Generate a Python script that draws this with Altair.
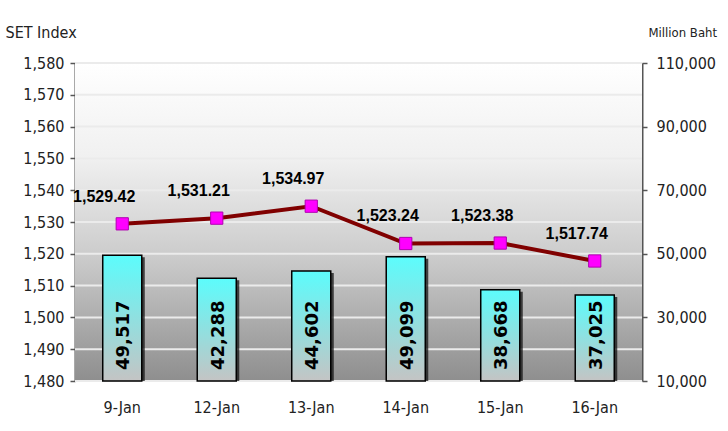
import altair as alt
import pandas as pd

dates = ["9-Jan", "12-Jan", "13-Jan", "14-Jan", "15-Jan", "16-Jan"]
set_index = [1529.42, 1531.21, 1534.97, 1523.24, 1523.38, 1517.74]
volume = [49517, 42288, 44602, 49099, 38668, 37025]
left_ticks = [1480, 1490, 1500, 1510, 1520, 1530, 1540, 1550, 1560, 1570, 1580]
right_ticks = [10000, 30000, 50000, 70000, 90000, 110000]
vol_base = 10000

df = pd.DataFrame({"date": dates, "set": set_index, "vol": volume})
grid_df = pd.DataFrame({"g": left_ticks})

W, H = 567, 318
FONT = "DejaVu Sans Condensed, Liberation Sans"
TXT = "#222222"

x_enc = alt.X(
    "date:N", sort=dates,
    scale=alt.Scale(type="band", paddingInner=0.587, paddingOuter=0.2935),
    axis=alt.Axis(title=None, labelFont=FONT, labelFontSize=16, labelColor=TXT,
                  ticks=False, domain=False, labelPadding=18, labelAngle=0),
)
y_left_scale = alt.Scale(domain=[1480, 1580], zero=False, nice=False)
y_right_scale = alt.Scale(domain=[10000, 110000], zero=False, nice=False)

# --- group A: background + grid
bg = alt.Chart(alt.Data(values=[{}])).mark_rect(
    color=alt.Gradient(
        gradient="linear", x1=0, x2=0, y1=0, y2=1,
        stops=[alt.GradientStop(color="#ffffff", offset=0),
               alt.GradientStop(color="#f0f0f0", offset=0.3),
               alt.GradientStop(color="#cacaca", offset=0.62),
               alt.GradientStop(color="#8e8e8e", offset=1)])
).encode(x=alt.value(0), x2=alt.value(W), y=alt.value(0), y2=alt.value(H))

grid = alt.Chart(grid_df).mark_rule(color="#ebebeb", strokeWidth=2).encode(
    y=alt.Y("g:Q", scale=y_left_scale, axis=None),
    x=alt.value(0), x2=alt.value(W),
)
group_a = alt.layer(bg, grid)

# --- group B: bars (right axis)
base = alt.Chart(df)
right_axis = alt.Axis(
    orient="right", title="Million Baht", titleAngle=0, titleX=6, titleY=-31,
    titleAlign="left", titleBaseline="middle", titleFont=FONT, titleFontSize=13,
    titleFontWeight="normal", titleColor=TXT,
    values=right_ticks, format=",.0f", labelFont=FONT, labelFontSize=16, labelColor=TXT,
    labelOverlap=False,
    tickSize=5, tickColor="#555555", tickWidth=1.5, domainColor="#555555",
    domainWidth=2, labelPadding=9, grid=False,
)
y_right = alt.Y("vol:Q", scale=y_right_scale, axis=right_axis)
shadow = base.mark_bar(color="#111111", opacity=0.75, xOffset=3, yOffset=2, clip=True).encode(
    x=x_enc, y=y_right, y2=alt.datum(vol_base)
)
bars = base.mark_bar(
    color=alt.Gradient(
        gradient="linear", x1=0, x2=0, y1=0, y2=1,
        stops=[alt.GradientStop(color="#5cfcfc", offset=0),
               alt.GradientStop(color="#c4c4c4", offset=1)]),
    stroke="black", strokeWidth=1.5,
).encode(x=x_enc, y=y_right, y2=alt.datum(vol_base))
bar_text = base.mark_text(
    angle=270, align="left", baseline="middle", dx=11, dy=2,
    font="DejaVu Sans", fontWeight="bold", fontSize=18, color="black",
).encode(x=x_enc, y=alt.datum(vol_base), text=alt.Text("vol:Q", format=","))
group_b = alt.layer(shadow, bars, bar_text)

# --- group C: line (left axis)
left_axis = alt.Axis(
    title="SET Index", titleAngle=0, titleX=-70, titleY=-31, titleAlign="left",
    titleBaseline="middle", titleFont=FONT, titleFontSize=16, titleFontWeight="normal",
    titleColor=TXT, values=left_ticks, format=",.0f", labelFont=FONT, labelFontSize=16,
    labelColor=TXT, labelOverlap=False, tickSize=5, tickColor="#555555", tickWidth=1.5,
    domainColor="#555555", domainWidth=2, labelPadding=6, grid=False,
)
y_left = alt.Y("set:Q", scale=y_left_scale, axis=left_axis)
line = base.mark_line(color="#800000", strokeWidth=4).encode(x=x_enc, y=y_left)
points = base.mark_point(
    shape="square", filled=True, size=150, fill="#ff00ff", stroke="#b000b0",
    strokeWidth=1, opacity=1,
).encode(x=x_enc, y=y_left)
labels = base.mark_text(
    font="Liberation Sans", fontWeight="bold", fontSize=16, dx=-18, dy=-27, color="black"
).encode(x=x_enc, y=y_left, text=alt.Text("set:Q", format=",.2f"))
group_c = alt.layer(line, points, labels)

chart = alt.layer(group_a, group_b, group_c).resolve_scale(y="independent").properties(
    width=W, height=H,
    autosize=alt.AutoSizeParams(type="none"),
    padding={"left": 75, "top": 63, "right": 86, "bottom": 50},
    background="white",
).configure_view(stroke=None)

chart.save("out.html", embed_options={"renderer": "svg", "actions": False})
